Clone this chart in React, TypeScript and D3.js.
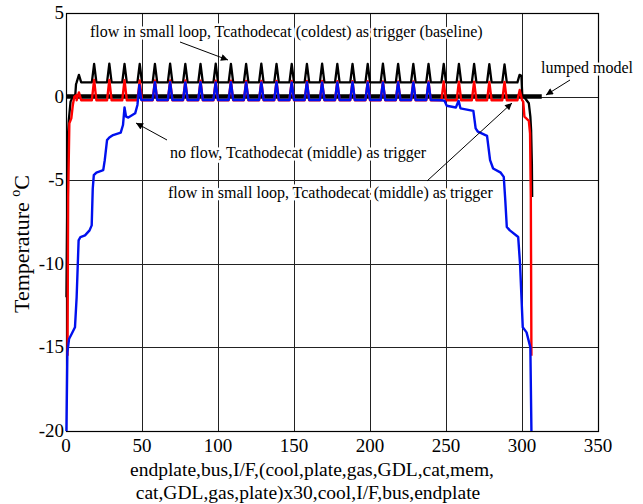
import React from "react";
import * as d3 from "d3";

const X_TICKS = [0, 50, 100, 150, 200, 250, 300, 350];
const Y_TICKS = [5, 0, -5, -10, -15, -20];
const X_GRID = [50, 100, 150, 200, 250, 300];
const Y_GRID = [0, -5, -10, -15];

// x positions of the per-cell temperature spikes (one per cell, 30 cells)
const cellPeakX = [8.5, 18.5, 28.5, 38.5, 48.5, 58.5, 68.5, 78.5, 88.5, 98.5, 108.5, 118.5, 128.5, 138.5, 148.5, 158.5, 168.5, 178.5, 188.5, 198.5, 208.5, 218.5, 228.5, 238.5, 248.5, 258.5, 268.5, 278.5, 288.5, 298.5];

// black: flow in small loop, Tcathodecat (coldest) as trigger (baseline)
const blackStart = [[0.3, -12], [1.2, -2.5], [1.8, -1.45], [3, -0.3], [4, -0.1], [6, -0.05], [6.6, 0.75], [7, 0.85]];
const blackPeaks = [1.3, 1.95, 1.97, 1.95, 1.96, 1.95, 1.97, 1.96, 1.95, 1.97, 1.96, 1.95, 1.97, 1.96, 1.95, 1.96, 1.97, 1.95, 1.96, 1.95, 1.97, 1.96, 1.95, 1.96, 1.95, 1.96, 1.95, 1.94, 1.93];
const blackTrough = 0.85;
const blackEnd = [[297, 0.85], [298.4, 1.3], [299.6, 1.25], [300.2, 0.05], [302, -0.1], [304.5, -0.4], [305.5, -1.2], [306, -2], [306.5, -4], [306.7, -6]];

// red: flow in small loop, Tcathodecat (middle) as trigger
const redStart = [[1.0, -15.5], [1.4, -6], [2.2, -1.6], [3.5, -1.3], [4.5, -0.5], [5.5, 0], [7, 0.1]];
const redPeaks = [0.25, 1.0, 1.0, 0.98, 0.97, 0.97, 0.96, 0.96, 0.95, 0.95, 0.95, 0.94, 0.94, 0.94, 0.93, 0.93, 0.93, 0.92, 0.92, 0.92, 0.91, 0.91, 0.9, 0.9, 0.9, 0.89, 0.89, 0.88, 0.88];
const redTrough = -0.22;
const redEnd = [[297, -0.22], [298.5, 0.4], [300, -0.2], [300.8, -0.3], [301.6, -1.2], [304.5, -1.45], [305.3, -2.2], [305.8, -6], [306.2, -15.5]];

// blue: no flow, Tcathodecat (middle) as trigger
const blueStart = [[0.3, -20], [0.9, -15.3], [2, -14.5], [3.7, -14.2], [5.9, -13.8], [7, -12], [8.3, -8.6], [9.5, -8.4], [12.5, -8.3], [15.5, -8.0], [16.9, -7.7], [17.6, -5.5], [18.3, -4.7], [20, -4.55], [24.5, -4.4], [25.5, -3.8], [27, -2.6], [28.5, -2.45], [31, -2.3], [36, -2.15], [37.5, -1.7], [38.5, -0.65], [39.5, -1.2], [41, -1.25], [45.5, -1.0], [47, -0.5], [48.3, 0.7], [49.5, -0.2], [57, -0.2]];
const bluePeakIdx = [5, 23];
const bluePeaks = [0.86, 0.86, 0.85, 0.86, 0.85, 0.86, 0.85, 0.85, 0.86, 0.85, 0.86, 0.85, 0.85, 0.86, 0.85, 0.85, 0.86, 0.85, 0.85];
const blueTrough = -0.2;
const blueEnd = [[240, -0.2], [247, -0.22], [249, -0.25], [250.5, -0.55], [256.5, -0.65], [258.3, -0.25], [259.5, -0.7], [268, -0.85], [269.5, -1.9], [271, -2.1], [277, -2.35], [279, -3.8], [281, -4.3], [286, -4.55], [288, -4.8], [289, -6.2], [290, -7.8], [292, -8.0], [297.5, -8.4], [298.7, -10], [300.5, -13.8], [303, -14.1], [305.5, -15], [306.2, -20]];

// lumped model
const lumpedX = [0, 313];
const lumpedY = [0, 0];

const W = 643, H = 504;
const FONT = '"Liberation Serif", "Times New Roman", Times, "DejaVu Serif", serif';

function buildSeries(start: number[][], firstIdx: number, peaks: number[], trough: number, end: number[][]) {
  const pts: number[][] = [...start];
  peaks.forEach((v, i) => {
    const c = cellPeakX[firstIdx + i];
    pts.push([c - 1.5, trough], [c, v], [c + 1.5, trough]);
  });
  return pts.concat(end);
}

export default function App() {
  const x = d3.scaleLinear().domain([0, 350]).range([66, 598]);
  const y = d3.scaleLinear().domain([-20, 5]).range([431, 13]);
  const line = d3.line<number[]>().x(d => x(d[0])).y(d => y(d[1]));

  const black = buildSeries(blackStart, 0, blackPeaks, blackTrough, blackEnd);
  const red = buildSeries(redStart, 0, redPeaks, redTrough, redEnd);
  const blue = buildSeries(blueStart, bluePeakIdx[0], bluePeaks, blueTrough, blueEnd);
  const lumped = lumpedX.map((v, i) => [v, lumpedY[i]]);

  const [x0, x1] = x.range();
  const [y0, y1] = y.range();

  const halo = { stroke: "#fff", strokeWidth: 5, paintOrder: "stroke" as const, strokeLinejoin: "round" as const };
  const tf = { fontFamily: FONT };

  return (
    <svg width={W} height={H} style={{ position: "absolute", left: 0, top: 0, background: "#fff", fontFamily: FONT }}>
      <defs>
        <marker id="ah" viewBox="0 0 10 10" refX="10" refY="5" markerWidth="9" markerHeight="7" orient="auto" markerUnits="userSpaceOnUse">
          <path d="M0,0 L10,5 L0,10 z" fill="#000" />
        </marker>
      </defs>
      <rect x={0} y={0} width={W} height={H} fill="#fff" />
      {X_GRID.map(v => (
        <line key={"gx" + v} x1={Math.round(x(v)) + 0.5} x2={Math.round(x(v)) + 0.5} y1={y1} y2={y0} stroke="#222" strokeWidth={1} />
      ))}
      {Y_GRID.map(v => (
        <line key={"gy" + v} x1={x0} x2={x1} y1={Math.round(y(v)) + 0.5} y2={Math.round(y(v)) + 0.5} stroke="#222" strokeWidth={1} />
      ))}
      <rect x={x0 + 0.5} y={y1 + 0.5} width={x1 - x0} height={y0 - y1} fill="none" stroke="#000" strokeWidth={1.2} />

      {/* annotations with white background */}
      <text x={90} y={37} fontSize={16} style={tf} {...halo}>flow in small loop, Tcathodecat (coldest) as trigger (baseline)</text>
      <text x={541} y={73} fontSize={16} style={tf} {...halo}>lumped model</text>
      <text x={170} y={158} fontSize={16} style={tf} {...halo}>no flow, Tcathodecat (middle) as trigger</text>
      <text x={168} y={198} fontSize={16} style={tf} {...halo}>flow in small loop, Tcathodecat (middle) as trigger</text>

      <path d={line(lumped) || ""} fill="none" stroke="#000" strokeWidth={4.5} />
      <path d={line(black) || ""} fill="none" stroke="#000" strokeWidth={2.3} strokeLinejoin="round" />
      <path d={line(red) || ""} fill="none" stroke="#ff0000" strokeWidth={2.4} strokeLinejoin="round" />
      <path d={line(blue) || ""} fill="none" stroke="#0010ee" strokeWidth={2.4} strokeLinejoin="round" />

      {/* arrows */}
      <line x1={180} y1={42} x2={228} y2={60} stroke="#000" strokeWidth={1} markerEnd="url(#ah)" />
      <line x1={570} y1={80} x2={546} y2={95} stroke="#000" strokeWidth={1} markerEnd="url(#ah)" />
      <line x1={167} y1={140} x2={136} y2={123} stroke="#000" strokeWidth={1} markerEnd="url(#ah)" />
      <line x1={427} y1={181} x2={512} y2={103} stroke="#000" strokeWidth={1} markerEnd="url(#ah)" />

      {/* tick labels */}
      {X_TICKS.map(v => (
        <text key={"tx" + v} x={x(v)} y={452} fontSize={19} textAnchor="middle" style={tf}>{v}</text>
      ))}
      {Y_TICKS.map(v => (
        <text key={"ty" + v} x={64} y={y(v) + 6} fontSize={19} textAnchor="end" style={tf}>{v}</text>
      ))}

      {/* axis titles */}
      <text transform="translate(29,244) rotate(-90)" fontSize={22} textAnchor="middle" style={tf}>
        Temperature <tspan fontSize={14} dy={-9}>o</tspan><tspan dy={9}>C</tspan>
      </text>
      <text x={312} y={476} fontSize={19.5} textAnchor="middle" style={tf}>endplate,bus,I/F,(cool,plate,gas,GDL,cat,mem,</text>
      <text x={308} y={499} fontSize={19.5} textAnchor="middle" style={tf}>cat,GDL,gas,plate)x30,cool,I/F,bus,endplate</text>
    </svg>
  );
}
